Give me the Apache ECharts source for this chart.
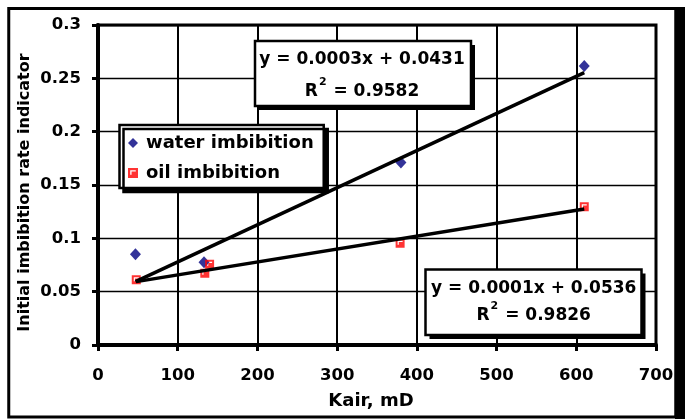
<!DOCTYPE html>
<html>
<head>
<meta charset="utf-8">
<script src="https://cdn.jsdelivr.net/npm/echarts@6/dist/echarts.min.js"></script>
<style>
  html, body { margin: 0; padding: 0; background: #fff; }
  #chart { width: 688px; height: 419px; }
</style>
</head>
<body>
<div id="chart"></div>
<script>
// Permeability (Kair, mD) against initial imbibition rate indicator
const waterK = [47, 133, 380, 610];
const waterRate = [0.085, 0.0775, 0.171, 0.2615];
const oilK = [48, 134, 140, 379, 610];
const oilRate = [0.0612, 0.0672, 0.0757, 0.0953, 0.1296];
const seriesNames = ['water imbibition', 'oil imbibition'];

// Linear trend lines (slope, intercept) and their R² values
const waterFit = { slope: 0.000348, intercept: 0.0431, r2: '0.9582' };
const oilFit = { slope: 0.000121, intercept: 0.0536, r2: '0.9826' };

const xTitle = 'Kair, mD';
const yTitle = 'Initial imbibition rate indicator';
const xRange = { min: 0, max: 700, step: 100 };
const yRange = { min: 0, max: 0.3, step: 0.05 };

const FONT = 'DejaVu Sans';

function pairs(xs, ys) { return xs.map((x, i) => [x, ys[i]]); }
function trend(xs, fit) {
  const lo = Math.min(...xs), hi = Math.max(...xs);
  return [[lo, fit.intercept + fit.slope * lo], [hi, fit.intercept + fit.slope * hi]];
}
function equation(fit) {
  return 'y = ' + fit.slope.toFixed(4) + 'x + ' + fit.intercept.toFixed(4);
}

// Boxed equation label with a solid drop shadow
function equationBox(box, cx, y1, y2, fit) {
  return {
    type: 'group',
    z: 50,
    children: [
      { type: 'rect', shape: { x: box.x + 4, y: box.y + 4, width: box.w, height: box.h },
        style: { fill: '#000' }, z: 50 },
      { type: 'rect', shape: { x: box.x, y: box.y, width: box.w, height: box.h },
        style: { fill: '#fff', stroke: '#000', lineWidth: 2.5 }, z: 51 },
      { type: 'text', x: cx, y: y1, z: 52,
        style: { text: equation(fit), fill: '#000', align: 'center', verticalAlign: 'middle',
                 font: 'bold 17px "' + FONT + '"' } },
      { type: 'text', x: cx, y: y2, z: 52,
        style: {
          text: '{r|R}{s|2}{r| = ' + fit.r2 + '}',
          align: 'center', verticalAlign: 'middle',
          rich: {
            r: { fontFamily: FONT, fontWeight: 'bold', fontSize: 17, lineHeight: 17,
                 verticalAlign: 'middle', fill: '#000' },
            // superscript raised by half its bottom padding
            s: { fontFamily: FONT, fontWeight: 'bold', fontSize: 11, lineHeight: 11,
                 padding: [0, 1, 19, 1], verticalAlign: 'middle', fill: '#000' }
          }
        } }
    ]
  };
}

// Square marker with the small white corner notch
const oilSymbol = 'path://M0,0H9V9H0Z M2,2V6H3.2V3.2H7V2Z';

const chart = echarts.init(document.getElementById('chart'), null, { renderer: 'canvas' });

chart.setOption({
  animation: false,
  backgroundColor: '#fff',
  grid: {
    left: 98, top: 25, width: 558, height: 320,
    show: true, borderColor: '#000', borderWidth: 3, backgroundColor: 'transparent',
    outerBoundsMode: 'none'
  },
  xAxis: {
    type: 'value', min: xRange.min, max: xRange.max, interval: xRange.step,
    axisLine: { show: true, onZero: false, lineStyle: { color: '#000', width: 4 } },
    axisTick: { show: true, length: 6, lineStyle: { color: '#000', width: 3 } },
    axisLabel: { margin: 22, color: '#000', fontFamily: FONT, fontWeight: 'bold', fontSize: 16.5 },
    splitLine: { show: true, lineStyle: { color: '#000', width: 2 } }
  },
  yAxis: {
    type: 'value', min: yRange.min, max: yRange.max, interval: yRange.step,
    axisLine: { show: true, onZero: false, lineStyle: { color: '#000', width: 4 } },
    axisTick: { show: true, length: 6, lineStyle: { color: '#000', width: 3 } },
    axisLabel: { margin: 17, color: '#000', fontFamily: FONT, fontWeight: 'bold', fontSize: 16.5 },
    splitLine: { show: true, lineStyle: { color: '#000', width: 1.3 } }
  },
  legend: {
    data: seriesNames,
    orient: 'vertical',
    left: 119.5, top: 125,
    padding: [8, 10, 5, 8.5],
    itemGap: 10, itemWidth: 10, itemHeight: 10,
    backgroundColor: '#fff', borderColor: '#000', borderWidth: 2.5,
    shadowColor: '#000', shadowOffsetX: 4, shadowOffsetY: 4, shadowBlur: 0,
    selectedMode: false,
    textStyle: { fontFamily: FONT, fontWeight: 'bold', fontSize: 18, color: '#000',
                 lineHeight: 20, padding: [0, 0, 0, 3] },
    z: 40
  },
  series: [
    { name: seriesNames[0], type: 'scatter', data: pairs(waterK, waterRate),
      symbol: 'diamond', symbolSize: [11, 12], itemStyle: { color: '#000080' }, z: 3 },
    { name: seriesNames[1], type: 'scatter', data: pairs(oilK, oilRate),
      symbol: oilSymbol, symbolSize: 9, itemStyle: { color: '#ff0000' }, z: 3 },
    { type: 'line', data: trend(waterK, waterFit), symbol: 'none', silent: true,
      lineStyle: { color: '#000', width: 3.5 }, z: 5 },
    { type: 'line', data: trend(oilK, oilFit), symbol: 'none', silent: true,
      lineStyle: { color: '#000', width: 3.5 }, z: 5 }
  ],
  graphic: [
    // outer frame with its heavy right edge
    { type: 'rect', shape: { x: 8.75, y: 8.5, width: 667, height: 408.5 },
      style: { fill: 'none', stroke: '#000', lineWidth: 3 }, z: 1 },
    { type: 'rect', shape: { x: 675, y: 7, width: 10, height: 412 },
      style: { fill: '#000' }, z: 1 },
    // axis titles
    { type: 'text', x: 371, y: 401.5, z: 10,
      style: { text: xTitle, fill: '#000', align: 'center', verticalAlign: 'middle',
               font: 'bold 18px "' + FONT + '"' } },
    { type: 'text', x: 25, y: 192.5, rotation: Math.PI / 2, z: 10,
      style: { text: yTitle, fill: '#000', align: 'center', verticalAlign: 'middle',
               font: 'bold 16px "' + FONT + '"' } },
    equationBox({ x: 255, y: 41, w: 216, h: 65 }, 362, 59.5, 91.3, waterFit),
    equationBox({ x: 425.5, y: 269.5, w: 216, h: 65.5 }, 533.7, 288.7, 315.3, oilFit)
  ]
});
</script>
</body>
</html>
